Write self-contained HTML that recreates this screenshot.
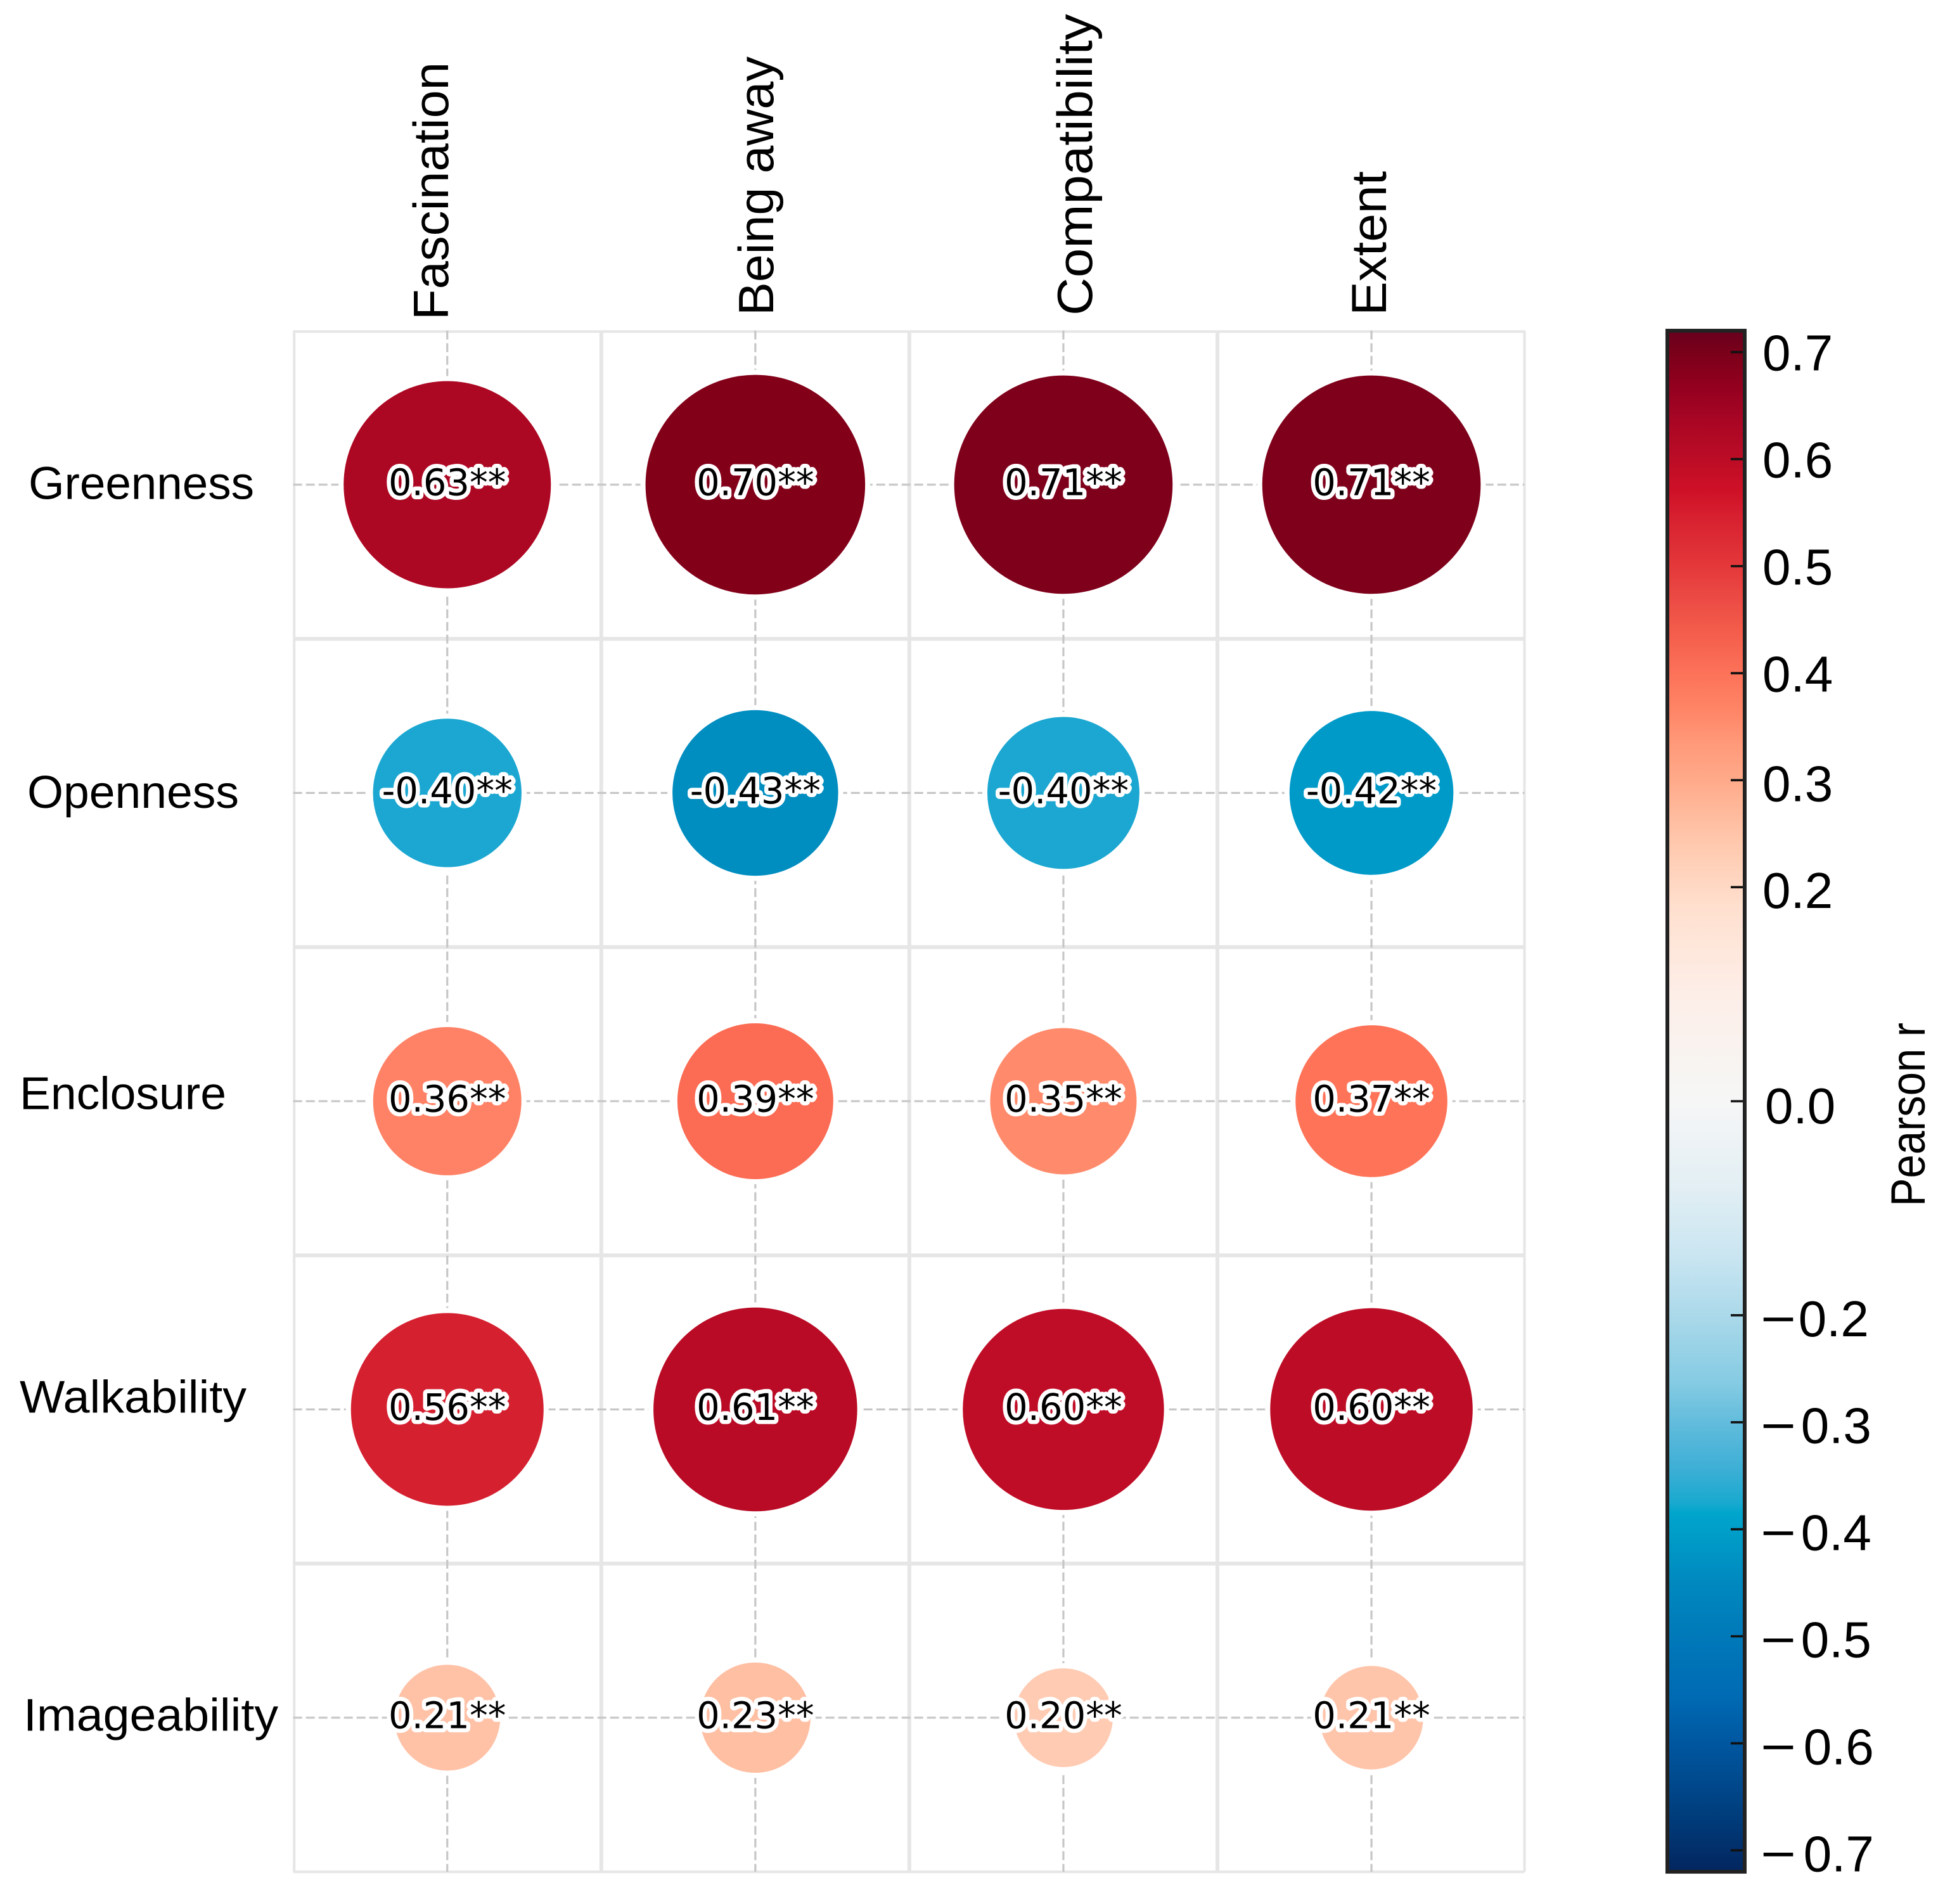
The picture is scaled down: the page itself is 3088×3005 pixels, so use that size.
<!DOCTYPE html>
<html lang="en">
<head>
<meta charset="utf-8">
<title>Correlation bubble matrix</title>
<style>
html,body{margin:0;padding:0;background:#fff;}
svg{display:block;}
text{font-family:"Liberation Sans",sans-serif;fill:#000;}
</style>
</head>
<body>
<svg id="chart" xmlns="http://www.w3.org/2000/svg" width="3088" height="3005" viewBox="0 0 3088 3005">
  <rect x="0" y="0" width="3088" height="3005" fill="#ffffff"/>
  <defs><linearGradient id="barGradient" gradientUnits="userSpaceOnUse" x1="0" x2="0"></linearGradient></defs>
  <g id="frame"></g>
  <g id="grid"></g>
  <g id="bubbles"></g>
  <g id="cellLabels"></g>
  <g id="xAxis"></g>
  <g id="yAxis"></g>
  <g id="colorbar"></g>
</svg>
<script>
// ---- chart data ----
const columns = ['Fascination', 'Being away', 'Compatibility', 'Extent'];
const rows = ['Greenness', 'Openness', 'Enclosure', 'Walkability', 'Imageability'];
// correlation estimated from each bubble's size and colour
const valuesGreenness = [0.6325, 0.702, 0.695, 0.695];
const valuesOpenness = [-0.358, -0.429, -0.372, -0.421];
const valuesEnclosure = [0.357, 0.3875, 0.3497, 0.371];
const valuesWalkability = [0.556, 0.614, 0.600, 0.607];
const valuesImageability = [0.2153, 0.228, 0.1965, 0.209];
// annotations as printed in the figure
const labelsGreenness = ['0.63**', '0.70**', '0.71**', '0.71**'];
const labelsOpenness = ['-0.40**', '-0.43**', '-0.40**', '-0.42**'];
const labelsEnclosure = ['0.36**', '0.39**', '0.35**', '0.37**'];
const labelsWalkability = ['0.56**', '0.61**', '0.60**', '0.60**'];
const labelsImageability = ['0.21**', '0.23**', '0.20**', '0.21**'];
const colorbarTicks = [0.7, 0.6, 0.5, 0.4, 0.3, 0.2, 0.0, -0.2, -0.3, -0.4, -0.5, -0.6, -0.7];
const colorLimit = 0.72;

// ---- colour scales: [value, colour] ----
const barColorStops = [
  [-0.72,'#03265f'],[-0.66,'#004080'],[-0.6,'#0057a0'],[-0.555,'#006bb4'],[-0.5,'#0079b9'],
  [-0.449,'#0089bf'],[-0.4,'#009fc9'],[-0.385,'#00a5cc'],[-0.375,'#1aa9cf'],[-0.343,'#3eafd6'],
  [-0.3,'#62bcdc'],[-0.263,'#85cbe3'],[-0.2,'#abd9ea'],[-0.146,'#c9e5f1'],[-0.078,'#e3eff4'],
  [0,'#f6f6f6'],[0.0225,'#f7f5f3'],[0.1,'#fdeee8'],[0.18,'#ffe0cf'],[0.24,'#ffc9ae'],
  [0.3,'#ffaa8a'],[0.338,'#ff9777'],[0.362,'#ff8768'],[0.4,'#fc7259'],[0.44,'#f35c4a'],
  [0.467,'#ec4c45'],[0.5,'#e4383a'],[0.546,'#d72030'],[0.57,'#cf1127'],[0.6,'#bc0c26'],
  [0.64,'#a60524'],[0.665,'#95001f'],[0.7,'#7a0019'],[0.72,'#67001f']
];
const bubbleColorStops = [
  [-0.72,'#03265f'],[-0.5,'#0079b9'],[-0.429,'#008dc0'],[-0.421,'#009ac9'],[-0.372,'#1ba7d1'],
  [-0.358,'#1ba7d1'],[-0.2,'#abd9ea'],[0,'#f7f7f7'],[0.1965,'#ffcbb3'],[0.209,'#ffc5ab'],
  [0.2153,'#ffc2a7'],[0.228,'#ffbfa3'],[0.3497,'#ff8b6c'],[0.357,'#ff8266'],[0.371,'#ff7358'],
  [0.3875,'#fc6b53'],[0.556,'#d52030'],[0.6,'#c00d27'],[0.607,'#bd0d26'],[0.614,'#b90b25'],
  [0.6325,'#ad0823'],[0.695,'#7f001b'],[0.702,'#830019'],[0.72,'#67001f']
];

const rowValues = [valuesGreenness, valuesOpenness, valuesEnclosure, valuesWalkability, valuesImageability];
const rowLabels = [labelsGreenness, labelsOpenness, labelsEnclosure, labelsWalkability, labelsImageability];

// ---- scales ----
const SVGNS = 'http://www.w3.org/2000/svg';
const plotLeft = 462.7, plotTop = 521.7, cellWidth = 486.1, cellHeight = 486.5;
const plotRight = 2405.5;
const plotBottom = plotTop + cellHeight * rows.length;
function xScale(i) { return plotLeft + cellWidth * (i + 0.5); }
function yScale(i) { return plotTop + cellHeight * (i + 0.5); }
function radiusScale(v) { return Math.sqrt(Math.max(47357 * Math.abs(v) - 3221, 16)); }
function barY(v) { return 1738 - 1689 * v; }
function hexToRgb(h) { return [1, 3, 5].map(function (p) { return parseInt(h.substr(p, 2), 16); }); }
function colorAt(stops, v) {
  const c = Math.max(stops[0][0], Math.min(stops[stops.length - 1][0], v));
  for (let i = 1; i < stops.length; i++) {
    if (c <= stops[i][0]) {
      const t = (c - stops[i - 1][0]) / (stops[i][0] - stops[i - 1][0]);
      const a = hexToRgb(stops[i - 1][1]), b = hexToRgb(stops[i][1]);
      return 'rgb(' + a.map(function (x, k) { return Math.round(x + (b[k] - x) * t); }).join(',') + ')';
    }
  }
  return stops[stops.length - 1][1];
}
function make(tag, parent, props) {
  const el = document.createElementNS(SVGNS, tag);
  Object.keys(props).forEach(function (k) { el.setAttribute(k, props[k]); });
  parent.appendChild(el);
  return el;
}

// ---- frame ----
const frame = document.getElementById('frame');
for (let i = 0; i <= columns.length; i++) {
  const last = i === columns.length;
  const edge = i === 0 || last;
  const x = last ? plotRight : plotLeft + cellWidth * i + (i === 0 ? 1.5 : 0);
  const vLine = make('line', frame, { x1: x, x2: x, y1: plotTop, y2: plotBottom, stroke: '#e6e6e6', 'stroke-width': edge ? 4 : 6 });
  
  
}
for (let j = 0; j <= rows.length; j++) {
  const edge = j === 0 || j === rows.length;
  const y = plotTop + cellHeight * j + (j === 0 ? 1.5 : 0);
  const hLine = make('line', frame, { x1: plotLeft, x2: plotRight, y1: y, y2: y, stroke: '#e6e6e6', 'stroke-width': edge ? 4 : 6 });
  
  
}

// ---- dashed grid ----
const grid = document.getElementById('grid');
columns.forEach(function (c, i) {
  const gridV = make('line', grid, { x1: xScale(i), x2: xScale(i), y1: plotTop, y2: plotBottom, stroke: '#c6c6c6', 'stroke-width': 3.2, 'stroke-dasharray': '14 6' });
  
  
});
rows.forEach(function (r, j) {
  const gridH = make('line', grid, { x1: plotLeft, x2: plotRight, y1: yScale(j), y2: yScale(j), stroke: '#c6c6c6', 'stroke-width': 3.2, 'stroke-dasharray': '14 6' });
  
  
});

// ---- bubbles and annotations ----
const bubbles = document.getElementById('bubbles');
const cellLabels = document.getElementById('cellLabels');
rows.forEach(function (rowName, j) {
  columns.forEach(function (colName, i) {
    const v = rowValues[j][i];
    const r = radiusScale(v);
    const bubble = make('circle', bubbles, { cx: xScale(i), cy: yScale(j), r: r + 4, fill: colorAt(bubbleColorStops, v), stroke: '#ffffff', 'stroke-width': 8 });
    
    
    const label = make('text', cellLabels, { x: xScale(i), y: yScale(j) + 16.5, 'text-anchor': 'middle', 'font-size': 57.5, stroke: '#ffffff', 'stroke-width': 13, 'stroke-linejoin': 'round', 'paint-order': 'stroke', style: 'font-family:"DejaVu Sans",sans-serif' });
    label.textContent = rowLabels[j][i];
    
    
  });
});

// ---- axis labels ----
const xAxis = document.getElementById('xAxis');
const xLabelBaselineX = [707, 1220, 1723, 2187];
const xLabelStartY = [505, 498, 498, 498];
const xLabelLength = [407, 409, 476, 228];
columns.forEach(function (name, i) {
  const t = make('text', xAxis, { x: xLabelBaselineX[i], y: xLabelStartY[i], 'font-size': 78, textLength: xLabelLength[i], lengthAdjust: 'spacingAndGlyphs', transform: 'rotate(-90 ' + xLabelBaselineX[i] + ' ' + xLabelStartY[i] + ')' });
  t.textContent = name;
  
  
});
const yAxis = document.getElementById('yAxis');
const yLabelX = [45, 43, 31, 31, 37];
const yLabelBaseline = [787.5, 1275, 1750.7, 2229.5, 2731.7];
const yLabelLength = [356, 334, 326, 358, 402];
rows.forEach(function (name, j) {
  const t = make('text', yAxis, { x: yLabelX[j], y: yLabelBaseline[j], 'font-size': 72, textLength: yLabelLength[j], lengthAdjust: 'spacingAndGlyphs' });
  t.textContent = name;
  
  
});

// ---- colorbar ----
const gradient = document.getElementById('barGradient');
gradient.setAttribute('y1', barY(colorLimit));
gradient.setAttribute('y2', barY(-colorLimit));
barColorStops.slice().reverse().forEach(function (s) {
  make('stop', gradient, { offset: (colorLimit - s[0]) / (2 * colorLimit), 'stop-color': s[1] });
});
const colorbar = document.getElementById('colorbar');
const barRect = make('rect', colorbar, { x: 2631, y: barY(colorLimit), width: 122, height: barY(-colorLimit) - barY(colorLimit), fill: 'url(#barGradient)', stroke: '#222222', 'stroke-width': 6 });


colorbarTicks.forEach(function (v) {
  const tick = make('line', colorbar, { x1: 2731, x2: 2750, y1: barY(v), y2: barY(v), stroke: '#111111', 'stroke-width': 3.6 });
  
  
  const baseline = barY(v) + (v >= 0.35 ? 29 : (v === 0 ? 35 : 33));
  if (v < 0) {
    const minus = make('text', colorbar, { x: 2778, y: baseline, 'font-size': 80, textLength: 56, lengthAdjust: 'spacingAndGlyphs' });
    minus.textContent = '\u2212';
    
    
  }
  const textX = v === 0 ? 2785 : (v > 0 ? 2781 : (v > -0.25 ? 2837.7 : (v > -0.55 ? 2841.7 : 2845.7)));
  const text = make('text', colorbar, { x: textX, y: baseline, 'font-size': 80 });
  text.textContent = Math.abs(v).toFixed(1);
  
  
});
const barTitle = make('text', colorbar, { x: 3037, y: 1904, 'font-size': 76, textLength: 290, lengthAdjust: 'spacingAndGlyphs', transform: 'rotate(-90 3037 1904)' });
barTitle.textContent = 'Pearson r';


</script>
</body>
</html>
